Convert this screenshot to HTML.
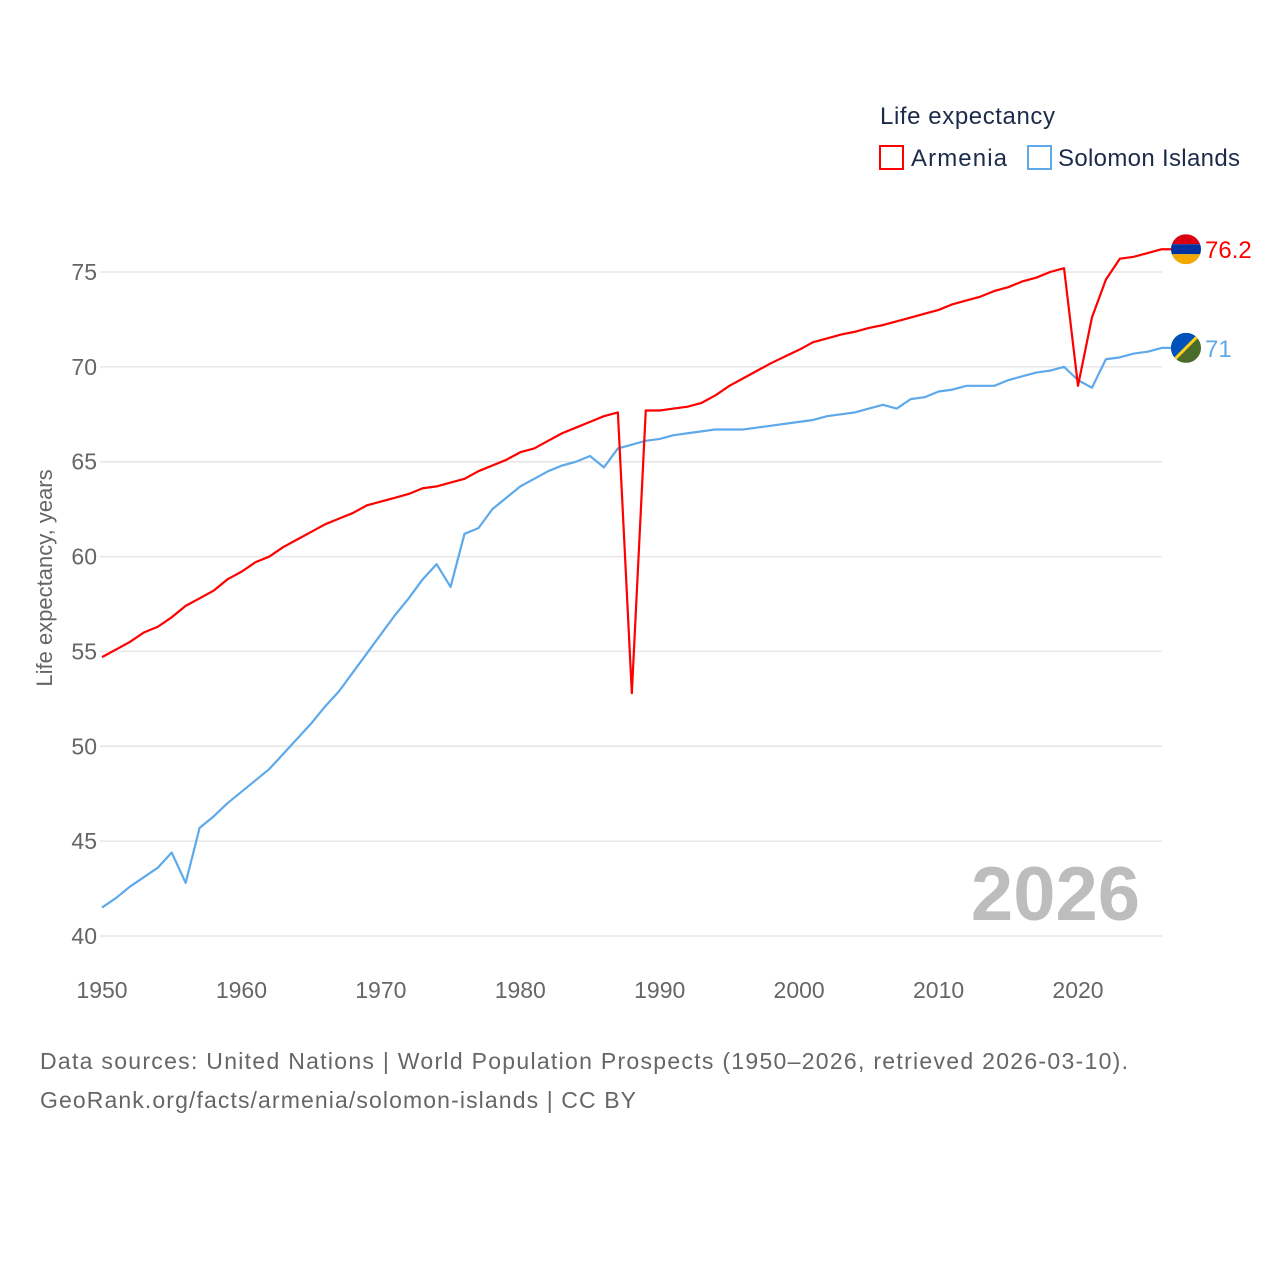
<!DOCTYPE html>
<html><head><meta charset="utf-8"><style>
body{margin:0;background:#fff;width:1280px;height:1280px;overflow:hidden;font-family:"Liberation Sans",sans-serif}
svg text{font-family:"Liberation Sans",sans-serif}
</style></head><body>
<svg id="chart" width="1280" height="1280">
<g id="grid"></g><g id="axes"></g><g id="lines"></g>
<text x="1140" y="920" text-anchor="end" font-size="76" font-weight="bold" fill="#bdbdbd">2026</text>
<text x="52" y="578" transform="rotate(-90 52 578)" text-anchor="middle" font-size="22" fill="#666">Life expectancy, years</text>
<text x="880" y="124" font-size="24" fill="#1c2b4a" textLength="175">Life expectancy</text>
<g>
<rect x="880" y="146" width="23" height="23" fill="none" stroke="#f00" stroke-width="2"/>
<text x="911" y="166" font-size="24" fill="#1c2b4a" textLength="96">Armenia</text></g>
<g>
<rect x="1028" y="146" width="23" height="23" fill="none" stroke="#5ea9ea" stroke-width="2"/>
<text x="1058" y="166" font-size="24" fill="#1c2b4a" textLength="182">Solomon Islands</text></g>
<text x="40" y="1069" font-size="23" fill="#666" textLength="1088">Data sources: United Nations | World Population Prospects (1950–2026, retrieved 2026-03-10).</text>
<text x="40" y="1108" font-size="23" fill="#666" textLength="596">GeoRank.org/facts/armenia/solomon-islands | CC BY</text>
</svg>
<script>
const years=[];for(let y=1950;y<=2026;y++)years.push(y);
const armenia=[54.7,55.1,55.5,56.0,56.3,56.8,57.4,57.8,58.2,58.8,59.2,59.7,60.0,60.5,60.9,61.3,61.7,62.0,62.3,62.7,62.9,63.1,63.3,63.6,63.7,63.9,64.1,64.5,64.8,65.1,65.5,65.7,66.1,66.5,66.8,67.1,67.4,67.6,52.8,67.7,67.7,67.8,67.9,68.1,68.5,69.0,69.4,69.8,70.2,70.55,70.9,71.3,71.5,71.7,71.85,72.05,72.2,72.4,72.6,72.8,73.0,73.3,73.5,73.7,74.0,74.2,74.5,74.7,75.0,75.2,69.0,72.6,74.6,75.7,75.8,76.0,76.2];
const solomon=[41.5,42.0,42.6,43.1,43.6,44.4,42.8,45.7,46.3,47.0,47.6,48.2,48.8,49.6,50.4,51.2,52.1,52.9,53.9,54.9,55.9,56.9,57.8,58.8,59.6,58.4,61.2,61.5,62.5,63.1,63.7,64.1,64.5,64.8,65.0,65.3,64.7,65.7,65.9,66.1,66.2,66.4,66.5,66.6,66.7,66.7,66.7,66.8,66.9,67.0,67.1,67.2,67.4,67.5,67.6,67.8,68.0,67.8,68.3,68.4,68.7,68.8,69.0,69.0,69.0,69.3,69.5,69.7,69.8,70.0,69.3,68.9,70.4,70.5,70.7,70.8,71.0];
const yTicks=[40,45,50,55,60,65,70,75];
const xTicks=[1950,1960,1970,1980,1990,2000,2010,2020];
const X=y=>102+(y-1950)*(1078-102)/70;
const Y=v=>936-(v-40)*(936-272)/35;
const NS='http://www.w3.org/2000/svg';
function mk(tag,attrs,parent){const e=document.createElementNS(NS,tag);for(const k in attrs)e.setAttribute(k,attrs[k]);document.getElementById(parent).appendChild(e);return e;}
yTicks.forEach(t=>{
 const l=mk('line',{x1:100,x2:1162,y1:Y(t),y2:Y(t),stroke:'#e6e6e6','stroke-width':1.5},'grid');
 
 
 const tx=mk('text',{x:97,y:Y(t)+8,'text-anchor':'end','font-size':23,fill:'#666'},'axes');tx.textContent=t;
 
 
});
xTicks.forEach(t=>{
 const tx=mk('text',{x:X(t),y:998,'text-anchor':'middle','font-size':23,fill:'#666'},'axes');tx.textContent=t;
 
 
});
function line(vals,color,name){
 const pts=vals.map((v,i)=>X(years[i])+','+Y(v));
 pts.push('1172,'+Y(vals[vals.length-1]));
 const p=mk('polyline',{points:pts.join(' '),fill:'none',stroke:color,'stroke-width':2.2,'stroke-linejoin':'round'},'lines');
 
 
}
line(solomon,'#5ea9ea','solomon-islands-line');
line(armenia,'#f00','armenia-line');
const la=armenia[armenia.length-1],ls=solomon[solomon.length-1];
const g=document.getElementById('lines');
const ya=Y(la),ys=Y(ls);
g.insertAdjacentHTML('beforeend',
`<g><clipPath id="ca"><circle cx="1186" cy="${ya}" r="15"/></clipPath><g clip-path="url(#ca)"><rect x="1171" y="${ya-15}" width="30" height="10" fill="#d90012"/><rect x="1171" y="${ya-5}" width="30" height="10" fill="#0033a0"/><rect x="1171" y="${ya+5}" width="30" height="10" fill="#f2a800"/></g></g>
<text x="1205" y="${ya+9}" font-size="24" fill="#f00">${la}</text>
<g><clipPath id="cs"><circle cx="1186" cy="${ys}" r="15"/></clipPath><g clip-path="url(#cs)"><rect x="1171" y="${ys-15}" width="30" height="30" fill="#4a6b2a"/><polygon points="1171,${ys-15} 1201,${ys-15} 1171,${ys+15}" fill="#0051ba"/><line x1="1201" y1="${ys-15}" x2="1171" y2="${ys+15}" stroke="#fcd116" stroke-width="3"/></g></g>
<text x="1205" y="${ys+9}" font-size="24" fill="#5ea9ea">${ls}</text>`);
</script>
</body></html>
